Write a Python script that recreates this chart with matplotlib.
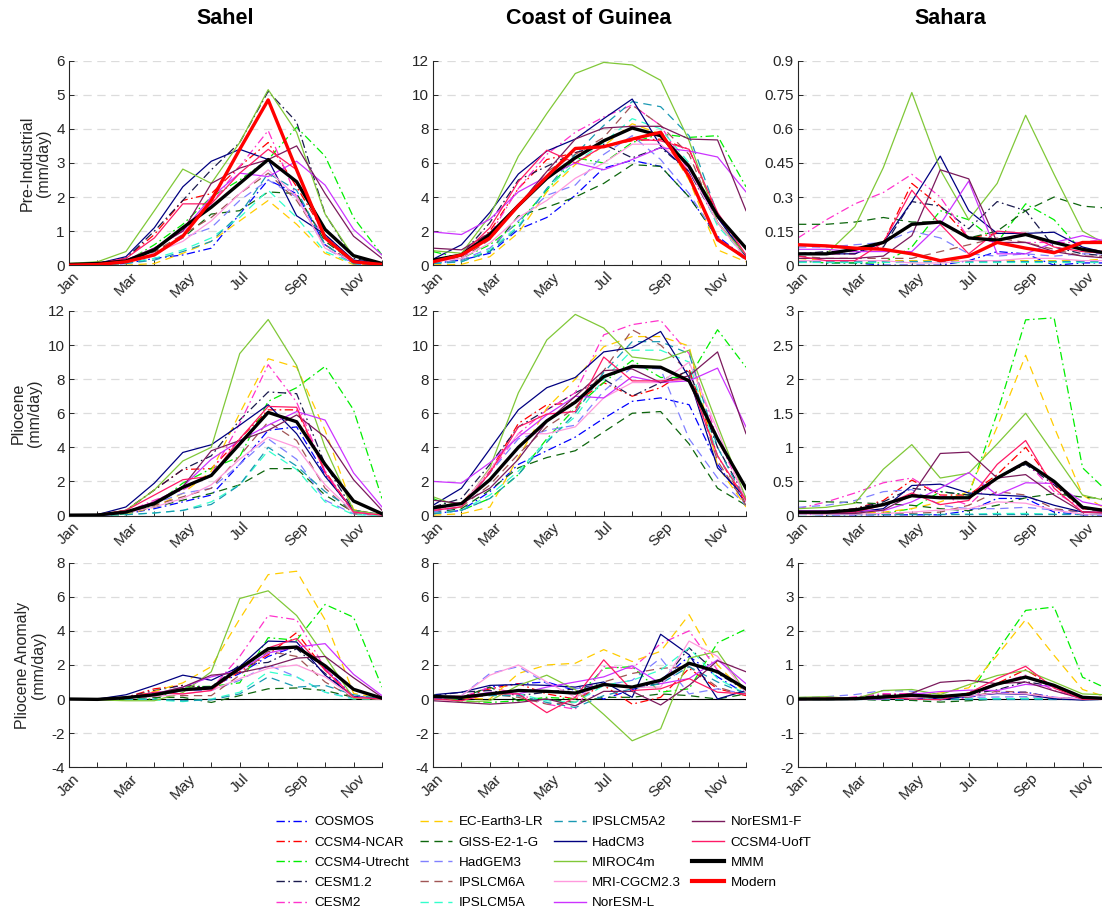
import numpy as np
import matplotlib
matplotlib.use("Agg")
import matplotlib.pyplot as plt
from matplotlib.lines import Line2D

plt.rcParams['font.family'] = ['Liberation Sans', 'DejaVu Sans']
plt.rcParams['lines.scale_dashes'] = False

months = ['Jan', 'Feb', 'Mar', 'Apr', 'May', 'Jun', 'Jul', 'Aug', 'Sep', 'Oct', 'Nov', 'Dec']
regions = ['Sahel', 'Coast of Guinea', 'Sahara']
row_labels = ['Pre-Industrial\n(mm/day)', 'Pliocene\n(mm/day)', 'Pliocene Anomaly\n(mm/day)']

models = ['COSMOS', 'CCSM4-NCAR', 'CCSM4-Utrecht', 'CESM1.2', 'CESM2',
          'EC-Earth3-LR', 'GISS-E2-1-G', 'HadGEM3', 'IPSLCM6A', 'IPSLCM5A',
          'IPSLCM5A2', 'HadCM3', 'MIROC4m', 'MRI-CGCM2.3', 'NorESM-L',
          'NorESM1-F', 'CCSM4-UofT']

# ---------------- Sahel ----------------
sahel_pi = [
    [0.0, 0.01, 0.05, 0.2, 0.3, 0.5, 1.5, 2.5, 2.1, 0.6, 0.05, 0.0],      # COSMOS
    [0.02, 0.05, 0.2, 0.9, 1.9, 2.1, 2.9, 3.6, 2.3, 0.9, 0.1, 0.02],      # CCSM4-NCAR
    [0.05, 0.05, 0.1, 0.6, 1.2, 2.0, 2.5, 3.1, 4.05, 3.2, 1.4, 0.3],      # CCSM4-Utrecht
    [0.02, 0.05, 0.2, 1.0, 1.9, 2.8, 3.6, 5.1, 4.2, 1.5, 0.2, 0.05],      # CESM1.2
    [0.05, 0.05, 0.15, 0.5, 1.0, 1.8, 2.9, 3.95, 2.0, 0.8, 0.1, 0.02],    # CESM2
    [0.0, 0.0, 0.0, 0.05, 0.35, 0.7, 1.3, 1.9, 1.2, 0.35, 0.02, 0.0],     # EC-Earth3-LR
    [0.02, 0.03, 0.1, 0.4, 0.8, 1.5, 1.6, 2.15, 2.1, 0.7, 0.1, 0.02],     # GISS
    [0.02, 0.03, 0.1, 0.35, 0.8, 1.1, 1.9, 2.5, 2.0, 0.5, 0.05, 0.0],     # HadGEM3
    [0.02, 0.03, 0.1, 0.4, 0.9, 1.4, 2.1, 2.7, 1.9, 0.6, 0.05, 0.02],     # IPSLCM6A
    [0.0, 0.01, 0.05, 0.2, 0.45, 0.8, 1.4, 2.2, 1.4, 0.4, 0.05, 0.0],     # IPSLCM5A
    [0.0, 0.01, 0.05, 0.15, 0.4, 0.7, 1.5, 2.7, 2.2, 0.6, 0.05, 0.0],     # IPSLCM5A2
    [0.0, 0.05, 0.25, 1.1, 2.3, 3.05, 3.4, 3.1, 1.45, 0.9, 0.15, 0.05],   # HadCM3
    [0.05, 0.1, 0.4, 1.6, 2.82, 2.4, 3.6, 5.15, 3.9, 1.5, 0.25, 0.05],    # MIROC4m
    [0.02, 0.03, 0.1, 0.35, 0.7, 1.3, 2.1, 2.8, 2.0, 0.5, 0.1, 0.02],     # MRI
    [0.02, 0.05, 0.15, 0.5, 1.0, 2.0, 2.7, 2.6, 3.05, 2.35, 1.05, 0.3],   # NorESM-L
    [0.02, 0.05, 0.15, 0.5, 1.0, 2.4, 2.85, 3.1, 3.5, 2.1, 0.85, 0.2],    # NorESM1-F
    [0.02, 0.05, 0.2, 0.8, 1.8, 1.8, 2.7, 3.4, 2.8, 0.8, 0.1, 0.02],      # CCSM4-UofT
]
sahel_pi_mmm = [0.02, 0.05, 0.12, 0.45, 1.1, 1.7, 2.4, 3.1, 2.45, 1.05, 0.28, 0.05]
sahel_modern = [0.0, 0.02, 0.1, 0.3, 0.85, 1.9, 3.4, 4.85, 2.8, 0.8, 0.1, 0.02]

sahel_plio = [
    [0.0, 0.01, 0.1, 0.4, 0.8, 1.2, 3.0, 5.0, 5.2, 2.4, 0.2, 0.02],
    [0.02, 0.05, 0.3, 1.5, 2.7, 2.75, 4.5, 6.2, 6.2, 2.6, 0.2, 0.02],
    [0.05, 0.05, 0.1, 0.6, 1.9, 2.75, 3.45, 6.7, 7.5, 8.75, 6.2, 1.0],
    [0.02, 0.05, 0.3, 1.5, 2.7, 3.5, 5.6, 7.25, 7.15, 3.0, 0.3, 0.05],
    [0.05, 0.05, 0.2, 0.9, 1.5, 2.4, 5.4, 8.85, 6.65, 2.6, 0.2, 0.02],
    [0.0, 0.0, 0.05, 0.5, 1.3, 2.6, 6.0, 9.2, 8.7, 5.0, 0.35, 0.02],
    [0.02, 0.03, 0.15, 0.5, 0.9, 1.3, 1.8, 2.75, 2.75, 1.2, 0.2, 0.02],
    [0.02, 0.03, 0.2, 0.7, 1.3, 1.6, 3.0, 4.5, 3.3, 0.9, 0.1, 0.0],
    [0.02, 0.03, 0.2, 0.6, 1.1, 1.6, 3.5, 5.5, 4.4, 1.6, 0.1, 0.02],
    [0.0, 0.01, 0.05, 0.15, 0.3, 0.8, 1.8, 3.8, 2.7, 0.8, 0.05, 0.0],
    [0.0, 0.01, 0.05, 0.15, 0.3, 0.65, 1.8, 4.0, 2.9, 1.4, 0.3, 0.02],
    [0.0, 0.05, 0.5, 1.9, 3.7, 4.15, 5.3, 6.5, 4.8, 2.3, 0.3, 0.05],
    [0.05, 0.05, 0.3, 1.5, 3.2, 4.0, 9.5, 11.5, 8.8, 4.0, 0.3, 0.05],
    [0.02, 0.03, 0.15, 0.5, 1.0, 1.8, 3.3, 4.6, 4.0, 1.8, 0.2, 0.02],
    [0.02, 0.05, 0.2, 0.8, 1.7, 3.3, 4.4, 5.3, 6.1, 5.6, 2.5, 0.5],
    [0.02, 0.05, 0.2, 0.8, 1.7, 3.8, 4.4, 5.0, 5.9, 4.6, 2.1, 0.3],
    [0.02, 0.05, 0.3, 1.2, 2.1, 2.3, 4.5, 6.4, 6.35, 2.5, 0.2, 0.02],
]
sahel_plio_mmm = [0.02, 0.03, 0.2, 0.7, 1.65, 2.35, 4.2, 6.05, 5.5, 3.0, 0.85, 0.1]

# ---------------- Coast of Guinea ----------------
guinea_pi = [
    [0.1, 0.3, 0.7, 2.1, 2.8, 4.1, 5.7, 6.15, 5.8, 4.0, 1.7, 0.4],
    [0.3, 0.6, 2.0, 4.5, 6.2, 6.6, 7.0, 7.3, 7.4, 6.8, 2.9, 0.5],
    [0.8, 0.4, 1.2, 2.5, 4.4, 6.3, 6.0, 7.2, 7.7, 7.5, 7.6, 4.6],
    [0.3, 0.6, 2.5, 5.0, 5.8, 6.6, 7.1, 6.3, 6.9, 5.5, 2.5, 0.5],
    [0.2, 0.4, 1.8, 4.5, 6.5, 7.8, 8.7, 9.4, 8.2, 5.5, 2.8, 0.5],
    [0.02, 0.05, 0.5, 1.9, 4.3, 5.9, 7.0, 8.3, 7.7, 5.0, 0.9, 0.2],
    [0.1, 0.3, 0.8, 2.9, 3.4, 4.0, 4.8, 5.9, 5.8, 4.0, 1.6, 0.3],
    [0.1, 0.3, 1.0, 2.6, 4.1, 4.7, 6.5, 7.6, 6.2, 4.2, 1.6, 0.3],
    [0.3, 0.4, 1.5, 3.5, 5.5, 6.5, 7.5, 9.4, 8.2, 6.5, 2.5, 0.4],
    [0.1, 0.2, 0.9, 2.3, 4.5, 6.0, 7.2, 8.6, 8.0, 6.0, 2.3, 0.5],
    [0.1, 0.2, 0.8, 2.2, 4.5, 6.5, 8.2, 9.6, 9.3, 7.6, 3.0, 0.5],
    [0.35, 1.2, 3.1, 5.35, 6.7, 7.4, 8.6, 9.75, 7.0, 5.5, 2.8, 0.5],
    [0.85, 0.7, 2.9, 6.4, 8.9, 11.25, 11.9, 11.75, 10.85, 7.3, 2.5, 0.6],
    [0.2, 0.4, 1.3, 2.8, 3.8, 5.1, 6.0, 7.1, 7.1, 5.6, 2.5, 0.4],
    [1.95, 1.8, 2.7, 4.3, 5.2, 6.0, 5.6, 6.2, 6.9, 6.7, 6.35, 4.3],
    [1.0, 0.9, 1.9, 3.5, 5.5, 7.4, 8.05, 8.15, 8.15, 7.4, 7.35, 3.2],
    [0.3, 0.6, 2.2, 4.9, 6.75, 6.0, 7.0, 7.4, 7.3, 6.8, 3.1, 0.6],
]
guinea_pi_mmm = [0.3, 0.6, 1.8, 3.5, 5.1, 6.3, 7.3, 8.05, 7.6, 5.8, 2.9, 1.0]
guinea_modern = [0.2, 0.6, 1.6, 3.5, 5.2, 6.85, 6.95, 7.4, 7.8, 5.2, 1.5, 0.4]

guinea_plio = [
    [0.1, 0.3, 1.4, 3.0, 3.8, 4.6, 5.7, 6.7, 6.9, 6.5, 3.0, 0.7],
    [0.3, 0.7, 2.6, 5.4, 6.5, 6.6, 7.8, 7.0, 7.5, 8.6, 3.5, 0.7],
    [1.0, 0.3, 1.0, 2.4, 4.5, 6.3, 7.8, 9.1, 8.1, 8.1, 10.9, 8.7],
    [0.5, 1.0, 3.0, 5.2, 6.2, 7.2, 8.0, 7.0, 7.8, 8.5, 4.0, 1.0],
    [0.3, 0.5, 2.5, 4.8, 6.2, 7.2, 10.6, 11.2, 11.45, 9.5, 4.5, 1.0],
    [0.02, 0.1, 0.5, 3.4, 6.3, 8.0, 9.9, 10.5, 10.5, 9.95, 2.9, 0.5],
    [0.2, 0.4, 1.5, 2.8, 3.4, 3.8, 4.9, 6.0, 6.1, 4.2, 1.6, 0.6],
    [0.2, 0.5, 2.5, 4.5, 5.0, 5.3, 7.3, 8.7, 8.6, 4.5, 2.2, 0.6],
    [0.3, 0.5, 1.8, 3.6, 5.2, 6.3, 8.5, 10.9, 10.0, 8.4, 3.2, 0.6],
    [0.1, 0.3, 1.2, 2.6, 4.4, 5.8, 8.0, 9.7, 9.7, 9.0, 3.5, 0.8],
    [0.1, 0.3, 1.0, 2.4, 4.3, 6.0, 8.4, 10.2, 10.2, 9.5, 4.0, 0.8],
    [0.6, 1.6, 3.9, 6.2, 7.5, 8.1, 9.6, 9.85, 10.8, 8.1, 2.8, 1.0],
    [1.1, 0.5, 2.8, 7.2, 10.3, 11.8, 11.0, 9.3, 9.1, 9.7, 5.3, 1.0],
    [0.3, 0.6, 2.7, 4.8, 4.8, 5.2, 6.9, 7.8, 7.8, 9.0, 5.0, 0.8],
    [2.0, 1.9, 3.1, 4.6, 5.9, 7.0, 6.9, 8.15, 7.8, 7.9, 8.65, 5.2],
    [0.9, 0.7, 1.6, 3.3, 5.5, 7.0, 8.5, 8.6, 7.8, 8.2, 9.6, 4.8],
    [0.3, 0.5, 2.5, 5.2, 5.95, 6.1, 9.3, 7.9, 7.9, 8.0, 3.5, 0.9],
]
guinea_plio_mmm = [0.45, 0.7, 2.1, 4.0, 5.55, 6.65, 8.15, 8.75, 8.7, 7.9, 4.5, 1.6]

# ---------------- Sahara ----------------
sahara_pi = [
    [0.02, 0.01, 0.01, 0.0, 0.0, 0.0, 0.02, 0.06, 0.05, 0.0, 0.01, 0.01],
    [0.05, 0.05, 0.05, 0.1, 0.36, 0.26, 0.12, 0.14, 0.14, 0.1, 0.07, 0.06],
    [0.02, 0.01, 0.01, 0.01, 0.08, 0.24, 0.2, 0.1, 0.27, 0.2, 0.06, 0.05],
    [0.05, 0.06, 0.06, 0.08, 0.28, 0.26, 0.16, 0.28, 0.24, 0.08, 0.05, 0.04],
    [0.12, 0.2, 0.27, 0.32, 0.4, 0.3, 0.12, 0.1, 0.1, 0.1, 0.1, 0.12],
    [0.03, 0.02, 0.02, 0.02, 0.02, 0.02, 0.02, 0.02, 0.02, 0.02, 0.02, 0.03],
    [0.18, 0.18, 0.19, 0.21, 0.19, 0.19, 0.12, 0.15, 0.24, 0.3, 0.26, 0.25],
    [0.08, 0.08, 0.09, 0.1, 0.15, 0.12, 0.05, 0.04, 0.05, 0.04, 0.05, 0.05],
    [0.04, 0.03, 0.03, 0.03, 0.03, 0.06, 0.09, 0.12, 0.1, 0.07, 0.04, 0.04],
    [0.015, 0.015, 0.015, 0.015, 0.015, 0.015, 0.015, 0.015, 0.015, 0.015, 0.015, 0.015],
    [0.02, 0.02, 0.02, 0.02, 0.02, 0.02, 0.02, 0.02, 0.02, 0.02, 0.02, 0.02],
    [0.05, 0.05, 0.05, 0.1, 0.28, 0.48, 0.24, 0.14, 0.14, 0.145, 0.08, 0.05],
    [0.05, 0.05, 0.17, 0.43, 0.76, 0.42, 0.2, 0.36, 0.66, 0.4, 0.15, 0.08],
    [0.02, 0.02, 0.02, 0.02, 0.01, 0.01, 0.02, 0.02, 0.03, 0.03, 0.02, 0.02],
    [0.07, 0.07, 0.06, 0.06, 0.06, 0.18, 0.37, 0.05, 0.05, 0.1, 0.13, 0.1],
    [0.03, 0.03, 0.03, 0.04, 0.13, 0.42, 0.38, 0.1, 0.1, 0.06, 0.04, 0.03],
    [0.04, 0.02, 0.02, 0.1, 0.33, 0.18, 0.05, 0.15, 0.14, 0.08, 0.06, 0.05],
]
sahara_pi_mmm = [0.05, 0.05, 0.07, 0.1, 0.18, 0.19, 0.12, 0.11, 0.135, 0.1, 0.07, 0.05]
sahara_modern = [0.09, 0.085, 0.075, 0.07, 0.05, 0.02, 0.04, 0.1, 0.075, 0.055, 0.1, 0.1]

sahara_plio = [
    [0.02, 0.01, 0.01, 0.01, 0.01, 0.01, 0.07, 0.25, 0.25, 0.05, 0.01, 0.01],
    [0.05, 0.05, 0.1, 0.22, 0.52, 0.3, 0.3, 0.6, 1.0, 0.45, 0.1, 0.06],
    [0.05, 0.03, 0.03, 0.03, 0.1, 0.35, 0.3, 1.5, 2.87, 2.9, 0.7, 0.3],
    [0.05, 0.06, 0.1, 0.2, 0.4, 0.35, 0.3, 0.55, 0.75, 0.45, 0.1, 0.05],
    [0.1, 0.2, 0.33, 0.48, 0.55, 0.3, 0.15, 0.55, 0.8, 0.35, 0.1, 0.1],
    [0.03, 0.02, 0.03, 0.05, 0.1, 0.2, 0.35, 1.3, 2.35, 1.3, 0.3, 0.05],
    [0.21, 0.2, 0.19, 0.17, 0.15, 0.1, 0.07, 0.15, 0.26, 0.32, 0.27, 0.24],
    [0.12, 0.15, 0.22, 0.35, 0.38, 0.15, 0.1, 0.1, 0.12, 0.08, 0.05, 0.05],
    [0.04, 0.03, 0.03, 0.03, 0.03, 0.05, 0.15, 0.35, 0.3, 0.1, 0.05, 0.04],
    [0.015, 0.015, 0.015, 0.015, 0.015, 0.015, 0.02, 0.03, 0.03, 0.02, 0.015, 0.015],
    [0.02, 0.02, 0.02, 0.02, 0.02, 0.02, 0.02, 0.02, 0.02, 0.02, 0.02, 0.02],
    [0.05, 0.05, 0.05, 0.1, 0.44, 0.46, 0.33, 0.3, 0.28, 0.15, 0.05, 0.05],
    [0.1, 0.12, 0.18, 0.68, 1.04, 0.55, 0.62, 1.05, 1.5, 0.9, 0.3, 0.2],
    [0.02, 0.02, 0.02, 0.03, 0.05, 0.08, 0.1, 0.2, 0.18, 0.08, 0.02, 0.02],
    [0.07, 0.07, 0.07, 0.07, 0.2, 0.4, 0.63, 0.3, 0.48, 0.47, 0.2, 0.12],
    [0.03, 0.03, 0.03, 0.08, 0.3, 0.91, 0.93, 0.55, 0.6, 0.3, 0.05, 0.03],
    [0.05, 0.05, 0.05, 0.15, 0.33, 0.16, 0.22, 0.75, 1.1, 0.4, 0.05, 0.05],
]
sahara_plio_mmm = [0.05, 0.05, 0.08, 0.16, 0.29, 0.26, 0.26, 0.55, 0.78, 0.5, 0.12, 0.06]

# ---------------- styles ----------------
colors = ['#0000ff', '#ff0000', '#00ee00', '#1a1a4d', '#ff33cc',
          '#ffcc00', '#0d660d', '#8080ff', '#a05555', '#33ffcc',
          '#1a99b3', '#000080', '#80c838', '#ff99dd', '#cc33ff',
          '#7a1a5c', '#ff1a66']
DD = (0, (6, 2.5, 1.2, 2.5))   # dash-dot
DA = (0, (6, 4))               # dashed
SO = '-'
styles = [DD, DD, DD, DD, DD, DA, DA, DA, DA, DA, DA, SO, SO, SO, SO, SO, SO]

ylims = [[(0, 6), (0, 12), (0, 0.9)],
         [(0, 12), (0, 12), (0, 3)],
         [(-4, 8), (-4, 8), (-2, 4)]]
yticks = [[np.arange(0, 6.1, 1), np.arange(0, 12.1, 2), [0, 0.15, 0.3, 0.45, 0.6, 0.75, 0.9]],
          [np.arange(0, 12.1, 2), np.arange(0, 12.1, 2), [0, 0.5, 1, 1.5, 2, 2.5, 3]],
          [np.arange(-4, 8.1, 2), np.arange(-4, 8.1, 2), np.arange(-2, 4.1, 1)]]

pi_data = [sahel_pi, guinea_pi, sahara_pi]
pi_mmm = [sahel_pi_mmm, guinea_pi_mmm, sahara_pi_mmm]
modern = [sahel_modern, guinea_modern, sahara_modern]
plio_data = [sahel_plio, guinea_plio, sahara_plio]
plio_mmm = [sahel_plio_mmm, guinea_plio_mmm, sahara_plio_mmm]

W, H = 1102, 910
fig = plt.figure(figsize=(W / 100, H / 100), dpi=100)

col_left = [69, 433, 798]
col_w = 313
row_top = [60.7, 311, 562.7]
row_h = 204.5

x = np.arange(1, 13)
fmt_tick = lambda v: ('%g' % v)

for r in range(3):
    for c in range(3):
        ax = fig.add_axes([col_left[c] / W, 1 - (row_top[r] + row_h) / H, col_w / W, row_h / H])
        if r == 0:
            series = [np.array(v) for v in pi_data[c]]
            mmm = np.array(pi_mmm[c])
        elif r == 1:
            series = [np.array(v) for v in plio_data[c]]
            mmm = np.array(plio_mmm[c])
        else:
            series = [np.array(p) - np.array(q) for p, q in zip(plio_data[c], pi_data[c])]
            mmm = np.array(plio_mmm[c]) - np.array(pi_mmm[c])
            ax.axhline(0, color='black', lw=0.8, zorder=1)
        for i, s in enumerate(series):
            ax.plot(x, s, color=colors[i], linestyle=styles[i], lw=0.9, zorder=2)
        ax.plot(x, mmm, color='black', lw=2.4, zorder=3)
        if r == 0:
            ax.plot(x, modern[c], color='#ff0000', lw=2.4, zorder=4)

        ax.set_xlim(1, 12)
        ax.set_ylim(*ylims[r][c])
        ax.set_yticks(yticks[r][c])
        ax.set_yticklabels([fmt_tick(v) for v in yticks[r][c]])
        ax.set_xticks(x)
        ax.set_xticklabels([m if i % 2 == 0 else '' for i, m in enumerate(months)],
                           rotation=45, ha='center', va='top')
        ax.tick_params(direction='in', length=3.5, width=0.7, colors='#262626',
                       labelsize=11, top=False, right=False, pad=3)
        for sp in ['top', 'right']:
            ax.spines[sp].set_visible(False)
        for sp in ['left', 'bottom']:
            ax.spines[sp].set_color('#262626')
            ax.spines[sp].set_linewidth(0.8)
        ax.yaxis.grid(True, color='#dcdcdc', linestyle=(0, (6, 4)), lw=0.9)
        ax.set_axisbelow(True)
        if c == 0:
            ax.set_ylabel(row_labels[r], fontsize=11.5, color='#262626', linespacing=1.1)

for c, name in enumerate(regions):
    cx = col_left[c] + (312 if c < 2 else 304) / 2
    fig.text(cx / W, 1 - 19 / H, name, ha='center', va='center',
             fontsize=15.5, fontweight='bold', color='black')

handles = [Line2D([0], [0], color=colors[i], linestyle=styles[i], lw=1.0) for i in range(len(models))]
handles += [Line2D([0], [0], color='black', lw=3), Line2D([0], [0], color='#ff0000', lw=3)]
labels = models + ['MMM', 'Modern']
fig.legend(handles, labels, loc='upper left', bbox_to_anchor=(276 / W, 1 - 816 / H),
           ncol=4, frameon=False, fontsize=9.7, handlelength=2.4, handletextpad=0.45,
           columnspacing=0.8, labelspacing=0.58, borderpad=0, borderaxespad=0)

fig.savefig('out.png', dpi=100)
